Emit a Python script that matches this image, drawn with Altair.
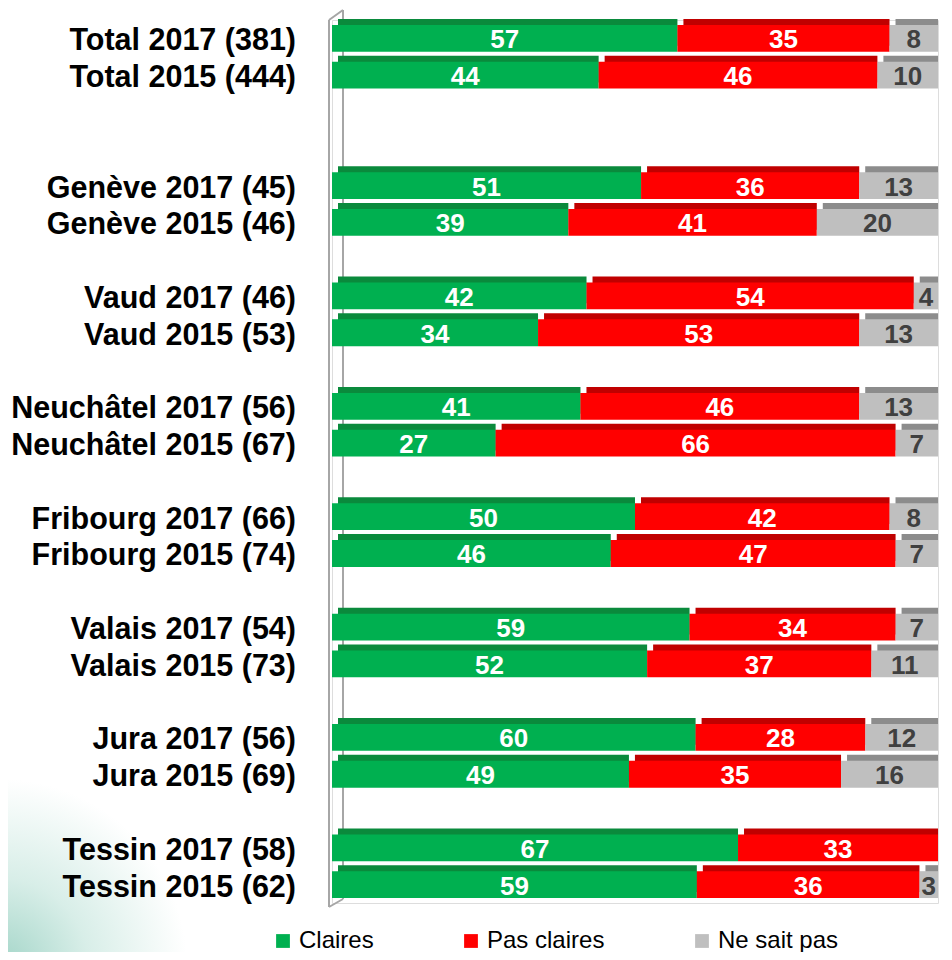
import altair as alt
import pandas as pd

labels = [
    "Total 2017 (381)", "Total 2015 (444)",
    "Genève 2017 (45)", "Genève 2015 (46)",
    "Vaud 2017 (46)", "Vaud 2015 (53)",
    "Neuchâtel 2017 (56)", "Neuchâtel 2015 (67)",
    "Fribourg 2017 (66)", "Fribourg 2015 (74)",
    "Valais 2017 (54)", "Valais 2015 (73)",
    "Jura 2017 (56)", "Jura 2015 (69)",
    "Tessin 2017 (58)", "Tessin 2015 (62)",
]
# row slot of each bar (blank slots separate the groups)
rows = [0, 1, 4, 5, 7, 8, 10, 11, 13, 14, 16, 17, 19, 20, 22, 23]
claires = [57, 44, 51, 39, 42, 34, 41, 27, 50, 46, 59, 52, 60, 49, 67, 59]
pas_claires = [35, 46, 36, 41, 54, 53, 46, 66, 42, 47, 34, 37, 28, 35, 33, 36]
ne_sait_pas = [8, 10, 13, 20, 4, 13, 13, 7, 8, 7, 7, 11, 12, 16, 0, 3]
categories = ["Claires", "Pas claires", "Ne sait pas"]

front_colors = ["#00b050", "#ff0000", "#bfbfbf"]
dark_colors = ["#0a8a3c", "#c00000", "#8c8c8c"]
FONT = "Liberation Sans, Arial, sans-serif"

recs = []
for lab, r, a, b, c in zip(labels, rows, claires, pas_claires, ne_sait_pas):
    for i, (cat, v) in enumerate(zip(categories, [a, b, c])):
        recs.append({"label": lab, "row": r, "cat": cat, "order": i, "value": v})
df = pd.DataFrame(recs)
lab_df = pd.DataFrame({"label": labels, "row": rows})

NROWS = 24
ydom = list(range(NROWS))
yenc = alt.Y("row:O", scale=alt.Scale(domain=ydom, paddingInner=0.27, paddingOuter=0.135), axis=None)
xscale = alt.Scale(domain=[0, 1], nice=False, zero=True)

base = alt.Chart(df).transform_stack(
    stack="value", groupby=["row"], as_=["x0", "x1"],
    sort=[alt.SortField("order", order="ascending")], offset="normalize"
).transform_calculate(mid="(datum.x0 + datum.x1) / 2")

dark = base.mark_bar(xOffset=6, yOffset=-6).encode(
    y=yenc,
    x=alt.X("x0:Q", scale=xscale, axis=None),
    x2="x1:Q",
    color=alt.Color("cat:N", scale=alt.Scale(domain=categories, range=dark_colors), legend=None),
).transform_filter("datum.value > 0")

front = base.mark_bar().encode(
    y=yenc,
    x=alt.X("x0:Q", scale=xscale, axis=None),
    x2="x1:Q",
    color=alt.Color(
        "cat:N",
        scale=alt.Scale(domain=categories, range=front_colors),
        legend=alt.Legend(
            title=None, orient="none", direction="horizontal", columns=3,
            legendX=-61, legendY=909, padding=0, symbolType="square", symbolSize=190,
            symbolStrokeWidth=0, labelFont=FONT, labelFontSize=24,
            labelColor="black", labelOffset=4, columnPadding=85, gridAlign="none",
        ),
    ),
).transform_filter("datum.value > 0")

vals = base.mark_text(font=FONT, fontSize=26, fontWeight="bold", baseline="middle", dy=2).encode(
    y=yenc,
    x=alt.X("mid:Q", scale=xscale, axis=None),
    text=alt.Text("value:Q"),
    color=alt.condition("datum.cat == 'Ne sait pas'", alt.value("#404040"), alt.value("white")),
).transform_filter("datum.value > 0")

names = alt.Chart(lab_df).mark_text(
    font=FONT, fontSize=30.5, fontWeight="bold", align="right", baseline="middle",
    dx=-36, dy=3, color="black"
).encode(y=yenc, x=alt.value(0), text="label:N")

one = alt.Chart(lab_df).transform_filter("datum.row == 0")

glow = one.mark_rect(
    fill=alt.RadialGradient(
        gradient="radial", x1=0, y1=1, r1=0, x2=0, y2=1, r2=1,
        stops=[alt.GradientStop(color="#a3d5c8", offset=0),
               alt.GradientStop(color="#d8eee8", offset=0.4),
               alt.GradientStop(color="#ffffff", offset=0.85)],
    )
).encode(x=alt.value(-332), x2=alt.value(-112), y=alt.value(740), y2=alt.value(932))

wall_col = "#a6a6a6"
front_line = one.mark_rule(color=wall_col, strokeWidth=2).encode(
    x=alt.value(-3), y=alt.value(0), y2=alt.value(887))
back_line = one.mark_rule(color=wall_col, strokeWidth=2).encode(
    x=alt.value(11), y=alt.value(-10), y2=alt.value(879))
top_slant = one.mark_rule(color=wall_col, strokeWidth=2).encode(
    x=alt.value(-3), x2=alt.value(11), y=alt.value(0), y2=alt.value(-10))
bot_slant = one.mark_rule(color=wall_col, strokeWidth=2).encode(
    x=alt.value(-3), x2=alt.value(11), y=alt.value(887), y2=alt.value(879))

chart = alt.layer(
    glow, back_line, top_slant, front_line, bot_slant, dark, front, vals, names
).resolve_scale(color="independent").properties(
    width=606, height=883,
    autosize=alt.AutoSizeParams(type="none"),
    padding={"left": 324, "top": 12, "right": 6, "bottom": 49},
).configure_view(stroke=None).configure(background="white")

chart.save("out.html", embed_options={"renderer": "svg", "actions": False})
